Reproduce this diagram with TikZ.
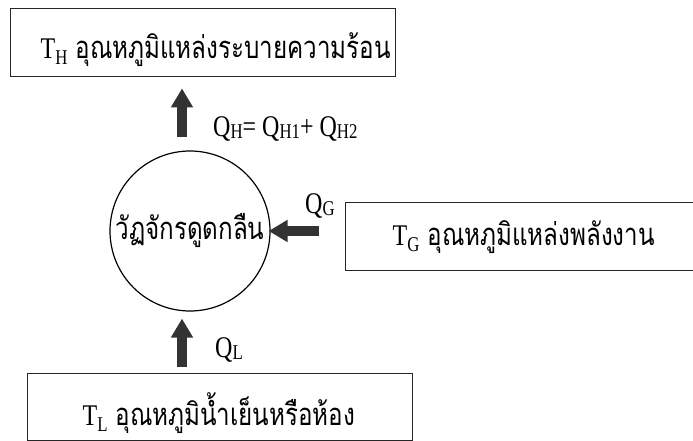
\documentclass[tikz,border=0pt]{standalone}
\usepackage{fontspec}
\setmainfont{Liberation Serif}
\newfontfamily\lat[FakeStretch=0.8]{Liberation Serif}
\newfontfamily\thai[Script=Thai,FakeStretch=0.78]{Loma}
\usetikzlibrary{arrows.meta,calc}
\newcommand\tsub[2][4pt]{\raisebox{-#1}{\fontsize{21}{21}\selectfont #2}}
\newcommand\boxline[3]{\makebox[#1][l]{{\lat\fontsize{30}{32}\selectfont T\tsub[6pt]{#2}}\hspace{8pt}{\thai\fontsize{31}{33}\selectfont #3}}}
\begin{document}
\begin{tikzpicture}[x=1pt,y=-1pt,
  box/.style={draw=black!85, line width=1.4pt, rectangle, inner ysep=0pt, anchor=north west},
  heat/.style={line width=10pt, draw=black!80, -{Triangle[width=21pt,length=19pt]}},
  lbl/.style={inner sep=0pt, font=\fontsize{30}{32}\selectfont\lat},
  thaitxt/.style={font=\fontsize{31}{33}\selectfont\thai}]
\useasboundingbox (0,0) rectangle (693,441);
\node[box, inner xsep=30pt, text height=50pt, text depth=18pt] (top) at (10,8)
  {\boxline{325pt}{H}{อุณหภูมิแหล่งระบายความร้อน}};
\node[box, inner xsep=47pt, text height=43pt, text depth=25pt] (gbox) at (345,202)
  {\boxline{300pt}{G}{อุณหภูมิแหล่งพลังงาน}};
\node[box, inner xsep=55pt, text height=52pt, text depth=15pt] (bot) at (27,373)
  {\boxline{275pt}{L}{อุณหภูมิน้ำเย็นหรือห้อง}};
\node[draw=black, line width=1.2pt, circle, minimum size=160pt, inner sep=0pt, thaitxt] (cyc) at (190,231) {วัฏจักรดูดกลืน};
\draw[heat] ([xshift=-8pt,yshift=13pt]cyc.north) -- ([xshift=-8pt,yshift=-11pt]cyc.north |- top.south);
\draw[heat] ([xshift=-8pt,yshift=6pt]cyc.south |- bot.north) -- ([xshift=-8pt,yshift=-7pt]cyc.south);
\draw[heat] ([xshift=-26pt]gbox.west |- cyc.east) -- ([xshift=-2pt]cyc.east);
\node[lbl, anchor=base west] (qh) at (213,136) {Q\tsub[2pt]{H}= Q\tsub[2pt]{H1}+ Q\tsub[2pt]{H2}};
\node[lbl, anchor=base west] (qg) at (305,213) {Q\tsub[2pt]{G}};
\node[lbl, anchor=base west] (ql) at (215,357) {Q\tsub[2pt]{L}};
\end{tikzpicture}
\end{document}
